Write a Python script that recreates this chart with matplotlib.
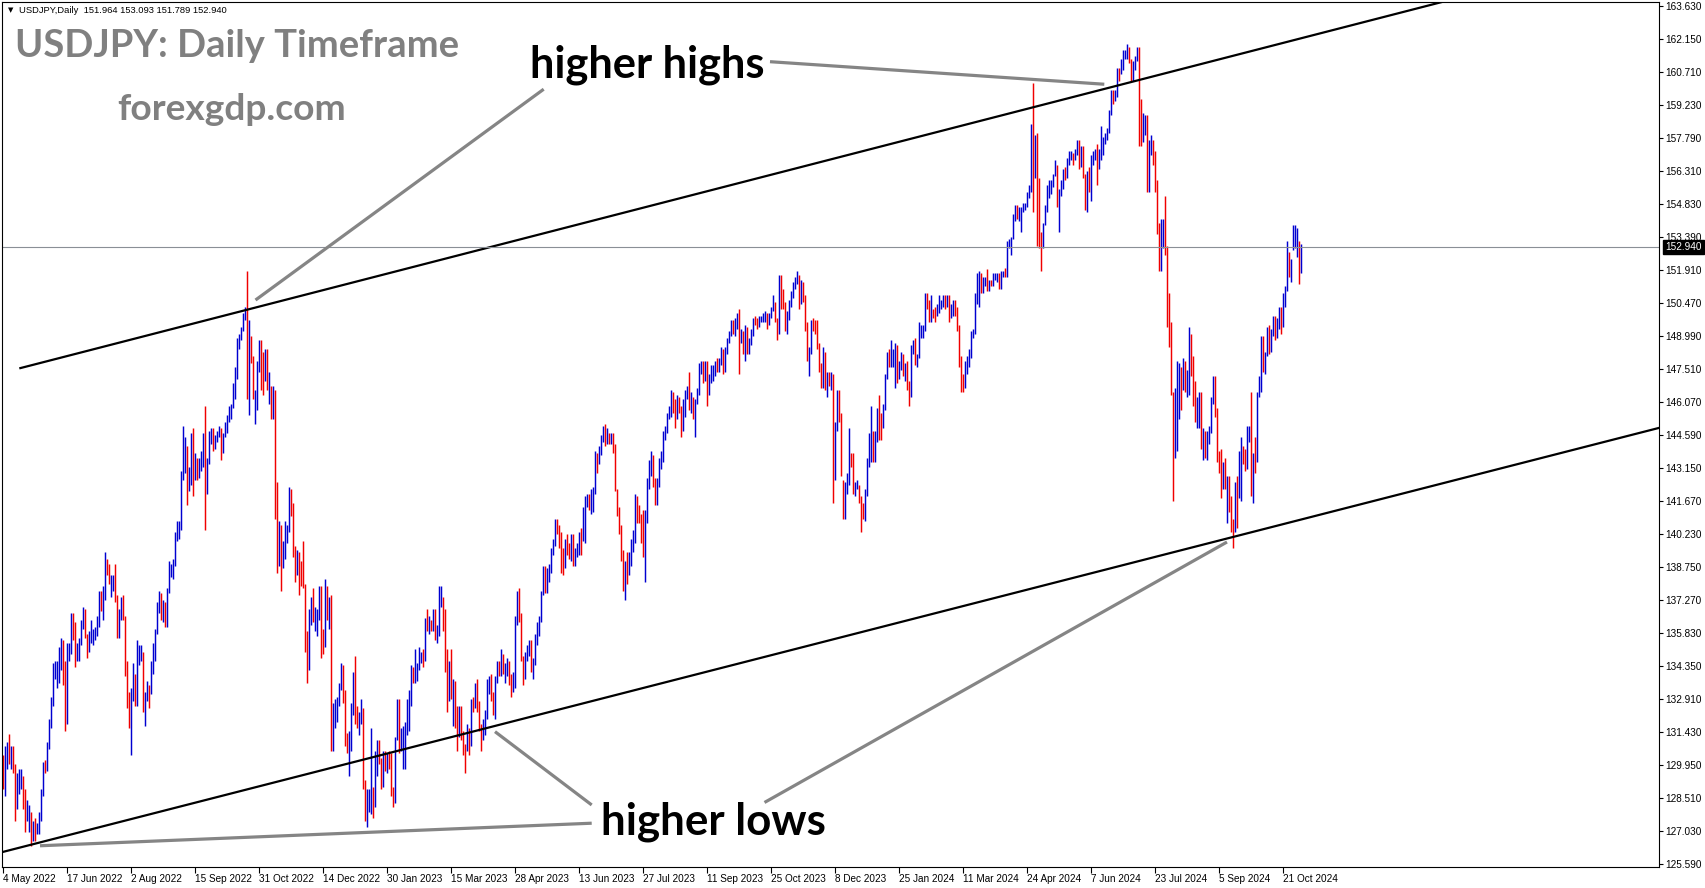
import numpy as np
import pandas as pd
import matplotlib
matplotlib.use("Agg")
import matplotlib.pyplot as plt
import matplotlib.transforms as mtransforms

# ---------------- data ----------------
header_text = "USDJPY,Daily  151.964 153.093 151.789 152.940"
title_text = "USDJPY: Daily Timeframe"
site_text = "forexgdp.com"
label_highs = "higher highs"
label_lows = "higher lows"

first_date = "2022-05-04"
last_date = "2024-11-01"
missing_days = ["2022-12-26", "2023-12-25", "2024-01-01"]
first_open = 130.10

closes = [
    129.1, 130.2, 130.6,
    130.3, 130.4, 129.9, 128.3, 129.2,
    129.2, 129.4, 128.2, 127.8, 127.9,
    127.9, 126.9, 127.3, 127.1, 127.1,
    127.6, 128.7, 130.0, 129.9, 130.9,
    131.9, 132.6, 134.2, 134.4, 134.4,
    134.4, 135.5, 133.9, 132.2, 135.0,
    135.0, 136.6, 136.2, 134.9, 135.2,
    135.4, 136.1, 136.6, 135.7, 135.2,
    135.7, 135.9, 135.9, 136.0, 136.1,
    137.4, 136.9, 137.4, 138.9, 138.6,
    138.2, 138.2, 138.2, 137.4, 136.1,
    136.7, 137.0, 136.6, 134.3, 133.2,
    131.6, 133.2, 133.9, 133.0, 135.0,
    135.0, 135.1, 132.9, 133.0, 133.4,
    133.3, 134.2, 135.0, 135.9, 137.0,
    137.5, 136.8, 137.2, 136.5, 137.6,
    138.7, 138.8, 138.9, 140.2, 140.2,
    140.5, 142.7, 144.0, 144.1, 142.6,
    142.8, 144.6, 143.2, 143.5, 142.9,
    143.2, 143.7, 144.0, 142.3, 143.3,
    144.7, 144.8, 144.2, 144.5, 144.7,
    144.8, 144.1, 144.6, 145.0, 145.3,
    145.7, 145.8, 146.9, 147.2, 148.7,
    149.0, 149.3, 149.9, 150.1, 147.6,
    149.0, 148.0, 146.3, 146.3, 147.6,
    148.7, 148.2, 147.9, 148.2, 146.6,
    146.6, 145.6, 146.4, 141.0, 138.8,
    139.9, 139.3, 139.5, 140.2, 140.4,
    142.1, 141.2, 139.5, 138.6, 139.1,
    138.9, 138.7, 138.1, 135.3, 134.3,
    136.7, 137.0, 136.6, 136.6, 136.6,
    137.7, 135.6, 135.5, 137.8, 136.7,
    136.9, 131.7, 132.4, 132.4, 132.8,
    133.5, 134.5, 133.1, 131.1,
    130.9, 131.0, 132.4, 134.0, 132.1,
    131.9, 132.3, 132.4, 129.2, 127.9,
    128.5, 128.6, 128.9, 128.4, 129.6,
    130.7, 130.2, 129.2, 130.2, 129.9,
    130.4, 130.1, 128.9, 128.7, 131.2,
    132.6, 131.1, 131.4, 131.4, 131.4,
    132.4, 133.0, 134.1, 133.9, 134.2,
    134.2, 134.9, 134.9, 134.7, 136.5,
    136.2, 136.2, 136.1, 136.7, 135.8,
    135.9, 137.1, 137.3, 136.1, 135.0,
    133.2, 134.2, 133.4, 133.7, 131.8,
    131.3, 132.5, 131.5, 130.8, 130.7,
    131.5, 130.9, 132.9, 132.7, 132.8,
    132.5, 131.6, 131.3, 131.8, 132.2,
    133.6, 133.6, 133.1, 132.6, 133.8,
    134.5, 134.1, 134.7, 134.2, 134.2,
    134.3, 133.7, 133.6, 133.9, 136.3,
    137.5, 136.6, 134.7, 134.3, 134.8,
    135.1, 135.2, 134.4, 134.5, 135.7,
    136.1, 136.4, 137.6, 138.7, 137.9,
    138.6, 138.6, 139.5, 139.9, 140.6,
    140.4, 139.8, 139.3, 138.8, 139.9,
    139.6, 139.5, 140.1, 139.0, 139.4,
    139.5, 140.2, 140.0, 140.2, 141.8,
    141.9, 141.5, 141.9, 142.1, 143.7,
    143.4, 143.9, 144.3, 144.8, 144.3,
    144.7, 144.5, 144.6, 144.1, 142.1,
    141.3, 140.4, 139.4, 138.1, 138.8,
    138.7, 139.3, 139.7, 140.1, 141.8,
    141.5, 140.9, 140.3, 139.4, 141.2,
    142.3, 143.3, 143.3, 142.6, 141.8,
    142.5, 143.4, 143.7, 144.7, 144.9,
    145.6, 145.6, 146.4, 145.9, 145.4,
    146.2, 145.9, 144.8, 146.1, 146.4,
    146.5, 145.9, 146.2, 145.5, 146.2,
    146.5, 147.7, 147.7, 147.3, 147.8,
    146.6, 147.1, 147.4, 147.5, 147.9,
    147.6, 147.9, 148.3, 147.6, 148.4,
    148.9, 149.1, 149.6, 149.3, 149.4,
    149.9, 149.0, 149.1, 148.5, 149.3,
    148.5, 148.7, 149.1, 149.8, 149.6,
    149.5, 149.8, 149.8, 149.9, 149.9,
    149.7, 149.9, 150.2, 150.4, 149.6,
    149.1, 151.7, 150.9, 150.4, 149.4,
    150.0, 150.4, 150.9, 151.3, 151.5,
    151.7, 150.4, 151.4, 150.7, 149.6,
    148.3, 148.4, 149.6, 149.5, 149.4,
    148.7, 147.5, 147.2, 148.2, 146.8,
    147.2, 147.1, 147.3, 144.2, 144.9,
    146.2, 145.4, 142.9, 141.9, 142.2,
    142.8, 143.8, 143.6, 142.1, 142.4,
    142.4, 141.8, 141.4, 141.0,
    142.0, 143.3, 144.6, 144.6,
    144.2, 144.4, 145.7, 145.3, 144.9,
    145.8, 147.2, 148.2, 148.1, 148.1,
    148.1, 148.4, 147.5, 147.7, 148.1,
    147.5, 147.6, 146.9, 146.4, 148.4,
    148.7, 147.9, 148.1, 149.3, 149.3,
    149.4, 150.7, 150.6, 149.9, 150.2,
    150.1, 150.0, 150.3, 150.5, 150.5,
    150.7, 150.5, 150.7, 149.9, 150.1,
    150.5, 150.0, 149.4, 148.0, 147.0,
    146.9, 147.6, 147.8, 148.3, 149.0,
    149.1, 150.9, 151.3, 151.6, 151.4,
    151.4, 151.5, 151.3, 151.4, 151.3,
    151.6, 151.6, 151.7, 151.3, 151.6,
    151.9, 151.8, 153.2, 153.2, 153.3,
    154.3, 154.7, 154.4, 154.6, 154.6,
    154.8, 154.8, 155.3, 155.6, 158.3,
    156.7, 157.8, 155.7, 153.0, 152.9,
    153.9, 154.6, 155.5, 155.5, 155.8,
    156.2, 156.4, 154.9, 155.4, 155.7,
    156.3, 156.2, 156.8, 157.0, 157.0,
    156.9, 157.2, 157.6, 156.8, 157.3,
    156.1, 154.8, 156.1, 155.6, 156.8,
    157.0, 157.1, 156.7, 157.0, 157.4,
    157.7, 157.9, 158.1, 158.9, 159.8,
    159.7, 159.7, 160.8, 160.7, 160.9,
    161.5, 161.5, 161.7, 161.2, 160.8,
    160.8, 161.3, 161.6, 158.8, 157.9,
    158.1, 158.3, 156.2, 157.4, 157.5,
    157.0, 155.6, 153.9, 152.0, 153.7,
    153.9, 152.7, 150.0, 149.4, 146.5,
    144.2, 144.3, 146.7, 147.1, 146.6,
    147.2, 146.8, 147.3, 149.3, 147.6,
    146.7, 145.2, 145.3, 146.3, 144.4,
    144.5, 143.9, 144.6, 144.9, 146.2,
    147.0, 145.5, 143.7, 143.4, 142.3,
    143.1, 142.4, 142.4, 141.8, 140.8,
    140.6, 142.4, 142.3, 142.6, 143.9,
    143.6, 143.2, 144.8, 144.8, 142.2,
    143.6, 143.5, 146.4, 146.9, 148.7,
    148.2, 148.2, 149.3, 148.6, 149.1,
    149.8, 149.2, 149.6, 150.1, 149.5,
    150.8, 151.1, 152.7, 151.8, 152.3,
    153.3, 153.4, 153.4, 152.0, 152.94,
]

highs = [
    130.4, 130.8, 131.0,
    131.35, 130.8, 130.8, 130.0, 129.6,
    129.8, 129.8, 129.5, 128.9, 128.4,
    128.2, 127.9, 127.5, 127.6, 127.4,
    127.9, 128.9, 130.1, 130.2, 131.0,
    132.0, 133.0, 134.5, 134.6, 134.6,
    135.2, 135.6, 135.5, 134.6, 135.4,
    135.4, 136.7, 136.7, 136.3, 135.4,
    135.6, 136.4, 137.0, 136.9, 135.8,
    135.9, 136.4, 136.0, 136.1, 136.6,
    137.7, 137.7, 137.9, 139.4, 139.1,
    138.9, 138.4, 138.4, 138.9, 137.5,
    136.9, 137.4, 137.5, 136.6, 134.6,
    133.2, 133.4, 134.5, 134.0, 135.5,
    135.3, 135.3, 135.0, 133.2, 133.7,
    133.5, 134.6, 135.4, 136.0, 137.2,
    137.7, 137.6, 137.3, 137.2, 137.8,
    139.0, 138.9, 139.1, 140.3, 140.8,
    140.8, 143.0, 145.0, 144.5, 144.1,
    143.2, 144.7, 144.9, 143.8, 143.6,
    143.6, 143.9, 144.7, 145.9, 143.6,
    144.8, 144.9, 144.9, 144.6, 144.8,
    145.0, 144.9, 144.7, 145.2, 145.5,
    145.9, 146.0, 146.9, 147.6, 148.9,
    149.1, 149.4, 150.0, 150.3, 151.9,
    149.7, 149.0, 148.1, 146.6, 147.9,
    148.8, 148.8, 148.3, 148.4, 148.4,
    147.4, 146.8, 146.8, 146.6, 142.5,
    140.8, 140.6, 139.9, 140.8, 140.6,
    142.3, 142.2, 141.6, 139.7, 139.5,
    139.4, 139.0, 139.9, 138.0, 135.9,
    136.9, 137.4, 137.8, 137.0, 136.9,
    137.9, 137.9, 136.0, 138.2, 137.9,
    137.4, 137.5, 132.7, 132.9, 133.0,
    133.6, 134.5, 134.4, 133.3,
    131.4, 131.5, 132.7, 134.1, 134.8,
    132.6, 132.3, 132.9, 132.5, 129.3,
    128.9, 128.9, 131.6, 129.0, 130.6,
    131.1, 131.1, 130.3, 130.6, 130.6,
    130.5, 130.6, 130.5, 129.0, 131.2,
    132.9, 132.9, 131.6, 131.7, 131.9,
    132.9, 133.3, 134.4, 134.3, 135.1,
    134.5, 135.2, 135.0, 135.1, 136.5,
    136.9, 136.6, 136.4, 136.9, 136.9,
    136.2, 137.9, 137.9, 137.4, 136.9,
    135.1, 134.6, 135.1, 133.8, 133.7,
    132.6, 132.6, 132.6, 131.5, 130.9,
    131.8, 131.6, 132.9, 133.0, 133.6,
    133.8, 132.8, 131.8, 132.0, 132.4,
    133.8, 133.9, 134.0, 133.2, 133.9,
    134.6, 134.6, 135.1, 134.9, 134.5,
    134.7, 134.6, 134.0, 134.1, 136.6,
    137.7, 137.8, 136.7, 134.8, 135.0,
    135.3, 135.5, 135.5, 134.7, 135.8,
    136.3, 136.6, 137.7, 138.8, 138.8,
    138.7, 138.9, 139.6, 140.0, 140.9,
    140.9, 140.6, 140.3, 139.6, 140.0,
    140.2, 139.8, 140.2, 140.2, 139.6,
    139.8, 140.3, 140.5, 141.4, 141.9,
    142.0, 142.0, 142.2, 142.3, 143.9,
    143.8, 144.1, 144.6, 145.0, 145.1,
    144.9, 144.7, 144.7, 144.7, 144.2,
    142.2, 141.4, 140.6, 139.5, 139.0,
    139.4, 139.4, 140.0, 140.4, 142.0,
    141.9, 141.5, 141.1, 141.3, 141.3,
    142.7, 143.5, 143.9, 143.7, 142.7,
    142.7, 143.6, 143.9, 144.8, 145.0,
    145.6, 145.9, 146.6, 146.5, 146.2,
    146.4, 146.3, 145.9, 146.2, 146.6,
    146.8, 147.4, 146.5, 146.3, 146.2,
    146.7, 147.8, 147.9, 147.9, 147.9,
    147.9, 147.3, 147.7, 147.7, 147.9,
    148.0, 148.0, 148.5, 148.4, 148.5,
    148.9, 149.2, 149.7, 149.7, 149.8,
    150.0, 150.2, 149.3, 149.2, 149.5,
    149.4, 148.9, 149.3, 149.8, 149.9,
    149.8, 149.9, 149.9, 150.0, 150.1,
    150.0, 150.0, 150.3, 150.8, 150.5,
    149.8, 151.7, 151.7, 151.1, 150.5,
    150.1, 150.6, 151.0, 151.4, 151.6,
    151.9, 151.7, 151.5, 151.4, 150.8,
    149.6, 148.5, 149.7, 149.8, 149.7,
    149.7, 148.7, 147.8, 148.5, 148.3,
    147.4, 147.4, 147.4, 147.3, 145.2,
    146.6, 146.6, 145.6, 142.6, 142.5,
    142.9, 144.9, 143.8, 143.8, 142.5,
    142.6, 142.4, 141.9, 141.6,
    142.2, 143.6, 144.7, 145.9,
    144.8, 144.8, 145.8, 146.4, 145.6,
    146.0, 147.3, 148.3, 148.4, 148.8,
    148.4, 148.7, 148.6, 147.9, 148.3,
    148.2, 147.8, 147.9, 147.0, 148.6,
    148.8, 148.9, 148.2, 149.6, 149.5,
    149.5, 150.9, 150.9, 150.6, 150.8,
    150.2, 150.3, 150.4, 150.8, 150.6,
    150.8, 150.8, 150.8, 150.8, 150.4,
    150.6, 150.6, 150.3, 149.5, 148.1,
    147.3, 147.9, 148.1, 148.4, 149.2,
    149.3, 150.9, 151.8, 151.9, 151.8,
    151.6, 151.6, 151.97, 151.5, 151.5,
    151.8, 151.8, 151.8, 151.8, 151.9,
    151.9, 152.0, 153.2, 153.3, 153.4,
    154.4, 154.8, 154.8, 154.7, 154.7,
    154.9, 154.9, 155.4, 155.7, 158.4,
    160.2, 157.9, 157.99, 156.0, 153.6,
    154.0, 154.8, 155.7, 155.9, 155.9,
    156.2, 156.8, 156.6, 155.5, 155.9,
    156.4, 156.5, 156.9, 157.2, 157.2,
    157.1, 157.3, 157.7, 157.7, 157.4,
    157.4, 156.2, 156.3, 156.5, 157.0,
    157.2, 157.3, 157.5, 157.3, 158.3,
    157.8, 158.0, 158.2, 159.0, 159.9,
    159.9, 159.9, 160.9, 160.9, 161.3,
    161.7, 161.7, 161.95, 161.8, 161.3,
    161.2, 161.4, 161.8, 161.8, 159.5,
    158.9, 158.8, 158.8, 157.7, 157.9,
    157.7, 157.2, 155.9, 154.0, 154.2,
    154.2, 155.2, 153.0, 150.9, 149.6,
    146.5, 146.7, 147.9, 147.8, 147.6,
    148.0, 147.9, 147.5, 149.4, 149.1,
    148.1, 147.0, 146.3, 146.5, 146.5,
    144.9, 144.8, 144.8, 145.0, 146.3,
    147.2, 147.2, 145.8, 143.9, 144.0,
    143.4, 143.6, 142.8, 142.8, 141.9,
    140.9, 142.5, 142.8, 143.9, 144.5,
    144.1, 144.0, 145.0, 145.0, 146.5,
    143.8, 144.5, 146.5, 147.2, 149.0,
    149.0, 148.3, 149.4, 149.5, 149.3,
    149.9, 149.9, 149.8, 150.3, 150.3,
    150.9, 151.2, 153.2, 152.7, 152.4,
    153.9, 153.9, 153.8, 153.2, 153.093,
]

lows = [
    128.9, 128.6, 129.8,
    130.0, 129.8, 129.6, 127.5, 128.0,
    128.7, 128.9, 128.0, 127.0, 127.5,
    127.0, 126.4, 126.6, 126.6, 126.9,
    126.9, 127.5, 128.6, 129.6, 129.7,
    130.7, 131.6, 132.6, 133.8, 133.4,
    133.6, 134.2, 133.5, 131.5, 131.8,
    134.6, 134.9, 135.5, 134.3, 134.6,
    134.6, 135.3, 136.0, 135.6, 134.7,
    135.0, 135.4, 135.3, 135.5, 135.7,
    136.1, 136.8, 136.4, 137.3, 138.4,
    138.0, 137.4, 137.7, 137.2, 135.6,
    135.6, 136.4, 136.4, 133.9, 132.5,
    131.6, 130.4, 132.8, 132.6, 132.6,
    134.4, 134.6, 132.3, 131.7, 132.8,
    132.5, 133.1, 134.0, 134.6, 135.8,
    136.7, 136.4, 136.3, 136.1, 136.1,
    137.6, 138.3, 138.2, 138.8, 139.9,
    140.0, 140.4, 142.6, 142.9, 141.5,
    142.1, 142.4, 141.9, 142.6, 142.6,
    142.7, 143.0, 143.2, 140.4, 142.0,
    143.3, 144.2, 143.9, 144.0, 144.3,
    144.5, 143.5, 143.8, 144.5, 144.7,
    145.2, 145.3, 145.8, 146.2, 147.1,
    148.4, 148.8, 149.2, 149.7, 146.2,
    145.5, 147.8, 146.2, 145.1, 145.7,
    147.4, 146.6, 146.4, 147.0, 146.6,
    146.0, 145.3, 145.3, 140.9, 138.5,
    138.8, 137.7, 138.7, 139.1, 139.8,
    140.3, 141.0, 139.2, 138.1, 138.4,
    137.5, 137.9, 137.8, 135.0, 133.6,
    134.2, 136.2, 136.3, 135.9, 135.7,
    136.4, 134.7, 134.9, 135.2, 136.4,
    136.0, 130.6, 130.6, 131.6, 131.9,
    132.6, 133.3, 132.7, 130.8,
    130.5, 129.5, 130.6, 132.2, 131.8,
    131.6, 131.3, 131.8, 128.9, 127.5,
    127.2, 127.9, 127.8, 127.6, 128.1,
    129.5, 130.0, 128.9, 129.0, 129.7,
    129.6, 129.8, 128.6, 128.1, 128.3,
    131.1, 130.5, 130.6, 129.8, 129.8,
    131.3, 131.5, 132.6, 133.6, 133.6,
    133.7, 134.2, 134.5, 134.3, 134.6,
    135.9, 135.8, 135.9, 135.9, 135.5,
    135.4, 135.7, 137.0, 135.9, 134.1,
    132.3, 132.8, 132.9, 131.7, 131.6,
    130.6, 131.2, 131.1, 130.4, 129.6,
    130.6, 130.4, 130.8, 132.3, 132.5,
    132.3, 131.5, 130.6, 131.1, 131.3,
    132.0, 133.1, 132.8, 132.2, 132.0,
    133.6, 133.9, 133.9, 134.0, 133.6,
    133.9, 133.5, 133.0, 133.2, 133.4,
    136.2, 136.3, 134.6, 133.5, 133.8,
    134.6, 134.8, 134.1, 133.8, 134.4,
    135.3, 135.7, 136.3, 137.5, 137.6,
    137.6, 138.1, 138.5, 139.3, 139.7,
    140.2, 139.6, 138.5, 138.4, 138.7,
    139.3, 139.1, 139.0, 138.8, 138.8,
    139.2, 139.3, 139.3, 139.9, 139.8,
    141.4, 141.3, 141.1, 141.2, 142.0,
    142.9, 143.3, 143.7, 144.3, 144.1,
    144.2, 144.2, 144.2, 143.8, 142.1,
    141.0, 140.2, 139.0, 137.7, 137.3,
    138.0, 138.4, 138.8, 139.4, 139.8,
    140.7, 140.7, 139.8, 139.2, 138.1,
    140.7, 142.2, 142.8, 142.3, 141.5,
    141.5, 142.3, 143.1, 143.4, 144.4,
    144.7, 145.3, 145.4, 145.6, 144.9,
    145.3, 145.6, 144.5, 144.8, 145.4,
    146.2, 145.7, 145.6, 145.3, 144.5,
    146.0, 146.4, 147.3, 146.9, 147.0,
    145.9, 146.4, 146.9, 147.0, 147.2,
    147.4, 147.4, 147.7, 147.3, 147.4,
    148.2, 148.7, 149.0, 149.1, 149.0,
    149.3, 147.3, 148.7, 148.2, 147.9,
    148.2, 148.2, 148.6, 149.0, 149.5,
    149.3, 149.4, 149.6, 149.6, 149.6,
    149.3, 149.5, 149.8, 150.1, 149.6,
    148.8, 149.1, 150.2, 150.2, 149.2,
    149.1, 149.7, 150.3, 150.7, 151.1,
    151.3, 150.2, 150.4, 150.5, 149.2,
    147.9, 147.2, 148.2, 149.2, 149.1,
    148.4, 147.4, 146.7, 146.7, 146.6,
    146.3, 146.8, 146.6, 141.6, 142.6,
    144.8, 145.2, 142.8, 140.9, 140.9,
    142.0, 142.4, 143.2, 142.0, 141.9,
    142.2, 141.6, 140.3, 140.9,
    140.8, 141.9, 143.2, 143.4,
    143.4, 143.4, 144.3, 144.4, 144.4,
    144.9, 145.7, 147.1, 147.6, 147.6,
    147.6, 146.7, 146.9, 147.1, 147.5,
    147.2, 147.0, 146.6, 145.9, 146.3,
    148.2, 147.7, 147.6, 148.0, 148.9,
    148.9, 149.2, 150.2, 149.6, 149.6,
    149.8, 149.6, 149.9, 150.0, 150.2,
    150.3, 150.2, 150.3, 149.6, 149.8,
    149.9, 149.9, 149.2, 147.6, 146.5,
    146.5, 146.7, 147.3, 147.6, 148.0,
    148.9, 149.1, 150.4, 150.3, 150.9,
    150.9, 151.2, 151.0, 151.0, 151.2,
    151.2, 151.5, 151.4, 151.1, 151.1,
    151.6, 151.6, 151.6, 152.9, 152.6,
    153.3, 154.1, 154.2, 154.1, 153.6,
    154.5, 154.6, 154.7, 155.1, 155.4,
    154.5, 156.0, 153.0, 152.9, 151.9,
    152.9, 153.9, 154.5, 155.1, 155.3,
    155.6, 156.1, 154.7, 153.6, 155.2,
    155.5, 155.9, 156.0, 156.6, 156.8,
    156.6, 156.8, 157.0, 156.4, 156.5,
    156.0, 154.6, 154.5, 155.4, 155.0,
    156.6, 156.8, 155.7, 156.4, 156.8,
    157.0, 157.5, 157.7, 158.0, 158.8,
    159.3, 159.4, 159.6, 160.3, 160.6,
    160.8, 161.3, 161.3, 161.1, 160.3,
    160.3, 160.8, 161.2, 157.4, 157.4,
    157.6, 157.9, 155.4, 155.4, 157.0,
    156.6, 155.4, 153.5, 151.9, 151.9,
    152.9, 152.6, 149.4, 148.5, 146.4,
    141.7, 143.6, 143.9, 145.3, 145.7,
    146.6, 146.5, 146.3, 146.4, 147.2,
    145.9, 145.2, 144.9, 144.9, 144.0,
    143.5, 143.6, 143.5, 144.2, 144.7,
    146.0, 145.4, 143.4, 142.9, 141.8,
    142.2, 142.2, 140.7, 141.2, 140.3,
    139.6, 140.3, 140.5, 141.8, 141.7,
    143.3, 143.0, 143.1, 144.3, 141.9,
    141.6, 142.9, 143.4, 146.3, 146.5,
    147.4, 147.3, 148.1, 148.2, 148.3,
    149.0, 148.8, 148.9, 149.3, 149.1,
    149.4, 150.3, 151.0, 151.6, 151.4,
    152.8, 152.9, 152.5, 151.3, 151.789,
]

y_tick_values = [163.63, 162.15, 160.71, 159.23, 157.79, 156.31, 154.83,
                 153.39, 151.91, 150.47, 148.99, 147.51, 146.07, 144.59,
                 143.15, 141.67, 140.23, 138.75, 137.27, 135.83, 134.35,
                 132.91, 131.43, 129.95, 128.51, 127.03, 125.59]
x_tick_labels = ["4 May 2022", "17 Jun 2022", "2 Aug 2022", "15 Sep 2022",
                 "31 Oct 2022", "14 Dec 2022", "30 Jan 2023", "15 Mar 2023",
                 "28 Apr 2023", "13 Jun 2023", "27 Jul 2023", "11 Sep 2023",
                 "25 Oct 2023", "8 Dec 2023", "25 Jan 2024", "11 Mar 2024",
                 "24 Apr 2024", "7 Jun 2024", "23 Jul 2024", "5 Sep 2024",
                 "21 Oct 2024"]

# trend channel anchors (bar index, price)
upper_channel_idx = [8.0, 653.35]
upper_channel_price = [147.56, 162.30]
lower_channel_idx = [-0.5, 827.85]
lower_channel_price = [126.11, 144.92]

# grey pointer lines (bar index pairs, price pairs)
pointer_idx = [(126.1, 270.2), (383.35, 550.5), (18.35, 294.2),
               (245.85, 294.2), (380.6, 611.85)]
pointer_price = [(150.59, 159.94), (161.16, 160.16), (126.39, 127.39),
                 (131.45, 128.20), (128.31, 139.86)]
label_highs_pos = (263.35, 160.48)
label_lows_pos = (298.85, 126.91)

# ---------------- figure ----------------
W, H = 1705, 888
DPI = 100
fig = plt.figure(figsize=(W / DPI, H / DPI), dpi=DPI, facecolor="white")
ax = fig.add_axes([2 / W, 21 / H, 1657 / W, 865 / H])
ax.set_facecolor("white")

dates = pd.bdate_range(first_date, last_date)
dates = dates[~dates.isin(pd.to_datetime(missing_days))]
n = len(closes)
assert len(highs) == n and len(lows) == n and len(dates) == n, (len(closes), len(highs), len(lows), len(dates))

idx = np.arange(n)
c = np.array(closes)
o = np.concatenate([[first_open], c[:-1]])
colors = np.where(c >= o, "#0000D0", "#F00000")
ax.vlines(idx, lows, highs, colors=colors, linewidth=1.05, antialiased=True)

ax.set_xlim(-0.65, 827.85)
ax.set_ylim(125.448, 163.807)

# channel lines
def line_at(xs, ys, x):
    return ys[0] + (ys[1] - ys[0]) * (x - xs[0]) / (xs[1] - xs[0])

ux = [upper_channel_idx[0], 830]
ax.plot(ux, [line_at(upper_channel_idx, upper_channel_price, v) for v in ux],
        color="black", lw=1.6, solid_capstyle="butt")
lx = [lower_channel_idx[0], 830]
ax.plot(lx, [line_at(lower_channel_idx, lower_channel_price, v) for v in lx],
        color="black", lw=1.6, solid_capstyle="butt")

# current price line
ax.axhline(closes[-1], color="#8a8f96", lw=0.8)

# pointers
for px, pp in zip(pointer_idx, pointer_price):
    ax.plot(px, pp, color="#858585", lw=2.3, solid_capstyle="butt")

# spines / ticks
for s in ax.spines.values():
    s.set_color("black")
    s.set_linewidth(0.8)

small_font = dict(family="Liberation Sans", size=7.2)
ax.yaxis.tick_right()
ax.set_yticks(y_tick_values)
ax.set_yticklabels([f"{v:.3f}" for v in y_tick_values], fontdict=small_font)
ax.tick_params(axis="y", direction="out", length=3, width=0.8, pad=1.5, colors="black")

tick_pos = [dates.get_loc(pd.to_datetime(s, format="%d %b %Y")) for s in x_tick_labels]
ax.set_xticks(tick_pos)
ax.set_xticklabels(x_tick_labels, fontdict=small_font)
for lab in ax.get_xticklabels():
    lab.set_horizontalalignment("left")
ax.tick_params(axis="x", direction="out", length=4, width=0.8, pad=1.0, colors="black")

# current price box
ax.annotate(f"{closes[-1]:.3f}", xy=(1.0, closes[-1]),
            xycoords=mtransforms.blended_transform_factory(ax.transAxes, ax.transData),
            xytext=(4.5, 0), textcoords="offset points", va="center", ha="left",
            color="white", fontsize=7.2, family="Liberation Sans",
            bbox=dict(boxstyle="square,pad=0.2", fc="black", ec="black"))

# text helpers
top_px = mtransforms.Affine2D().scale(1, -1).translate(0, H)
renderer = fig.canvas.get_renderer()

def fit(t, width_px):
    w = t.get_window_extent(renderer=renderer).width
    t.set_fontsize(t.get_fontsize() * width_px / w)
    return t

fig.text(8, 10, "\u25bc", transform=top_px, fontsize=5, family="DejaVu Sans",
         va="center", ha="left", color="black")
fit(fig.text(19, 10, header_text, transform=top_px, fontsize=7,
             family="Liberation Sans", va="center", ha="left", color="black"), 208)

fit(fig.text(15, 57, title_text, transform=top_px, fontsize=26, family="Lato",
             weight="bold", va="baseline", ha="left", color="#808080"), 444)
fit(fig.text(117, 120, site_text, transform=top_px, fontsize=24, family="Lato",
             weight="bold", va="baseline", ha="left", color="#808080"), 228)

fit(ax.text(label_highs_pos[0], label_highs_pos[1], label_highs, fontsize=28,
            family="Lato", weight="bold", va="baseline", ha="left", color="black"), 235)
fit(ax.text(label_lows_pos[0], label_lows_pos[1], label_lows, fontsize=28,
            family="Lato", weight="bold", va="baseline", ha="left", color="black"), 225)

fig.savefig("out.png", dpi=DPI, facecolor="white")
